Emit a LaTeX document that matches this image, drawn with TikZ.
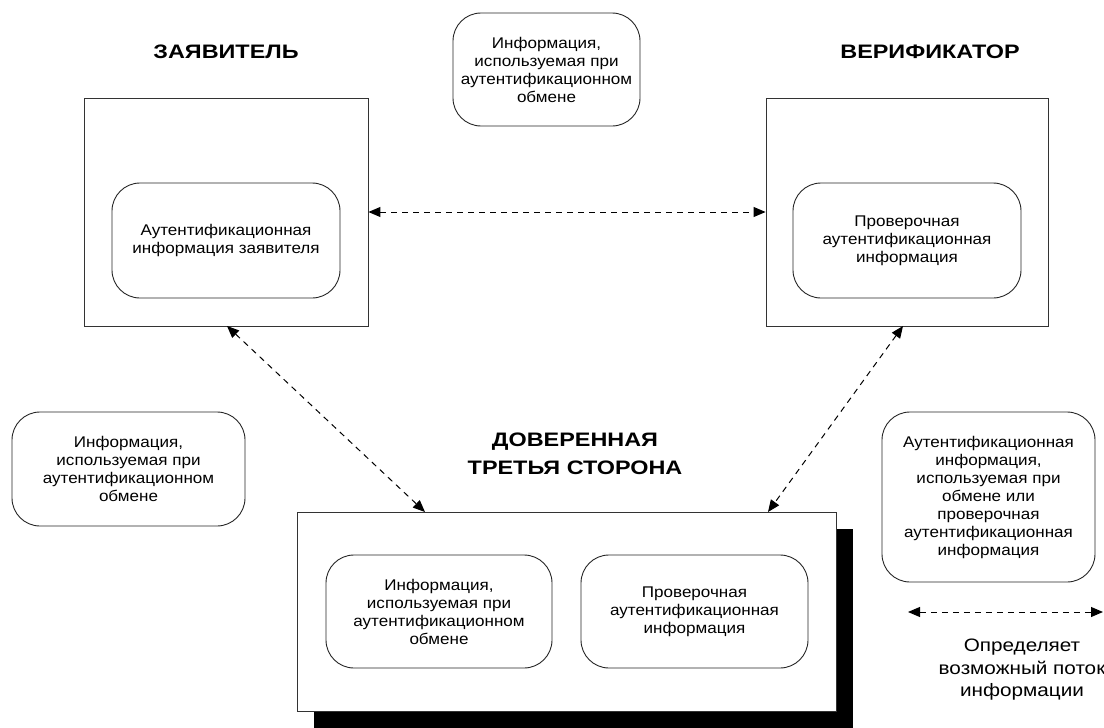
\documentclass[tikz,border=0pt]{standalone}
\usepackage{fontspec}
\setmainfont{Liberation Sans}
\newfontfamily\titlefont[FakeStretch=1.2]{Liberation Sans Bold}
\newfontfamily\bodyfont[FakeStretch=1.1]{Liberation Sans}
\newfontfamily\legendfont[FakeStretch=1.15]{Liberation Sans}
\usetikzlibrary{arrows.meta}

\tikzset{
  frame/.style={draw=black!80, line width=0.9pt, fill=white, inner sep=0pt},
  bubble/.style={draw=black!85, line width=0.9pt, fill=white, rounded corners=28pt,
    inner sep=0pt, align=center, font=\bodyfont\fontsize{15.5}{18}\selectfont},
  heading/.style={align=center, font=\titlefont\fontsize{19.5}{28}\selectfont},
  flow/.style={line width=1pt, dash pattern=on 6pt off 5pt,
    {Triangle[length=12pt,width=10pt]}-{Triangle[length=12pt,width=10pt]}},
  legendtext/.style={align=center, font=\legendfont\fontsize{18}{22.5}\selectfont}
}

\begin{document}
\begin{tikzpicture}[x=1pt,y=-1pt]
\useasboundingbox (0,0) rectangle (1104,728);

% headings
\node[heading] (hz) at (226,52) {ЗАЯВИТЕЛЬ};
\node[heading] (hv) at (930,52) {ВЕРИФИКАТОР};
\node[heading] (ht) at (575,454) {ДОВЕРЕННАЯ\\ТРЕТЬЯ СТОРОНА};

% claimant
\node[frame, minimum width=284pt, minimum height=228pt] (zl) at (226,212) {};
\node[bubble, minimum width=228pt, minimum height=115pt] (zi) at (226,240.5)
  {Аутентификационная\\информация заявителя};

% verifier
\node[frame, minimum width=282pt, minimum height=228pt] (vr) at (907,212) {};
\node[bubble, minimum width=228pt, minimum height=115pt] (vi) at (907,240.5)
  {Проверочная\\аутентификационная\\информация};

% exchange information notes
\node[bubble, minimum width=187pt, minimum height=113pt] (nt) at (546.5,69.5)
  {Информация,\\используемая при\\аутентификационном\\обмене};
\node[bubble, minimum width=233pt, minimum height=114pt] (nl) at (128.5,469)
  {Информация,\\используемая при\\аутентификационном\\обмене};
\node[bubble, minimum width=213pt, minimum height=170pt] (nr) at (988.5,497)
  {Аутентификационная\\информация,\\используемая при\\обмене или\\проверочная\\аутентификационная\\информация};

% trusted third party with shadow
\fill[black] (314,529) rectangle (853,728);
\node[frame, minimum width=539pt, minimum height=199pt] (tp) at (566.5,611.5) {};
\node[bubble, minimum width=226pt, minimum height=113pt] (ti) at (439,611.5)
  {Информация,\\используемая при\\аутентификационном\\обмене};
\node[bubble, minimum width=227pt, minimum height=113pt] (tv) at (694.5,611.5)
  {Проверочная\\аутентификационная\\информация};

% information flows
\coordinate (zb) at (227,326);
\coordinate (vb) at (903,326);
\coordinate (tl) at (425,512);
\coordinate (tr) at (768,512);
\draw[flow] (zl.east) -- (vr.west);
\draw[flow] (zb) -- (tl);
\draw[flow] (vb) -- (tr);

% legend
\coordinate (la) at (908,612);
\coordinate (lb) at (1103,612);
\draw[flow] (la) -- (lb);
\node[legendtext] (lt) at (1022,670) {Определяет\\возможный поток\\информации};
\end{tikzpicture}
\end{document}
